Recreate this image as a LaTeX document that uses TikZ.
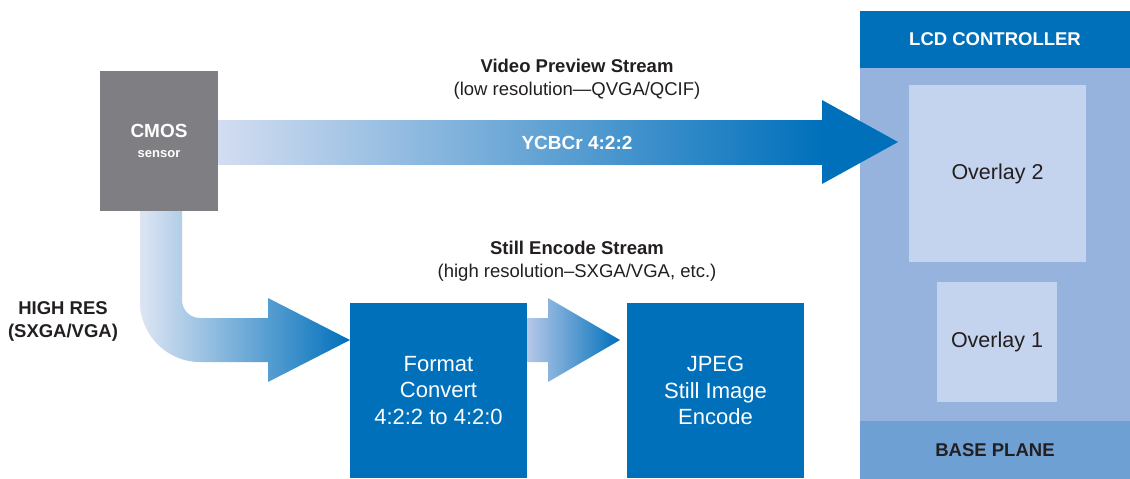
\documentclass[tikz,border=0pt]{standalone}
\usepackage{fontspec}
\setmainfont{Liberation Sans}
\begin{document}
\begin{tikzpicture}[x=1pt,y=-1pt,
  every node/.style={inner sep=0pt, outer sep=0pt},
  fs/.style n args={2}{font=\fontsize{#1}{#2}\selectfont},
  block/.style={fill=mblue, text=white, align=center, anchor=north west},
  panel/.style={fill=olay, text=ink, align=center, anchor=north west, fs={21.5}{24}},
  caption/.style={text=ink, align=center, font=\bfseries\fontsize{18.5}{23}\selectfont},
]
\definecolor{mblue}{HTML}{0070BB}
\definecolor{sensorgray}{HTML}{7F7F83}
\definecolor{lcdbody}{HTML}{95B3DD}
\definecolor{olay}{HTML}{C5D4EE}
\definecolor{baseplane}{HTML}{6FA0D3}
\definecolor{ink}{HTML}{231F20}
\definecolor{paleA}{HTML}{D3DDF1}
\definecolor{paleB}{HTML}{DDE5F3}
\definecolor{paleC}{HTML}{B6C8E8}

\useasboundingbox (0,0) rectangle (1130,479);

% LCD controller column
\node[fill=lcdbody, minimum width=270pt, minimum height=468pt, anchor=north west] (lcd) at (860,11) {};
\node[fill=mblue, text=white, minimum width=270pt, minimum height=57pt, anchor=north west,
      font=\bfseries\fontsize{18.5}{20}\selectfont] (lcdhead) at (860,11) {LCD CONTROLLER};
\node[fill=baseplane, text=ink, minimum width=270pt, minimum height=58pt, anchor=north west,
      font=\bfseries\fontsize{18.5}{20}\selectfont] (base) at (860,421) {BASE PLANE};
\node[panel, minimum width=177pt, minimum height=177pt] (ov2) at (909,85) {Overlay 2};
\node[panel, minimum width=120pt, minimum height=120pt] (ov1) at (937,282) {Overlay 1};

% sensor
\node[fill=sensorgray, text=white, align=center, anchor=north west,
      minimum width=118pt, minimum height=140pt] (cmos) at (100,71)
      {{\bfseries\fontsize{19}{20}\selectfont CMOS}\\[8pt]{\bfseries\fontsize{13}{14}\selectfont sensor}};

% processing blocks
\node[block, minimum width=177pt, minimum height=175pt, fs={22}{26.5}] (fmt) at (350,303)
      {Format\\Convert\\4:2:2 to 4:2:0};
\node[block, minimum width=177pt, minimum height=175pt, fs={22}{26.5}] (jpeg) at (627,303)
      {JPEG\\Still Image\\Encode};

% preview stream: sensor -> LCD
\shade[left color=paleA, right color=mblue] (cmos.east |- 0,120) rectangle (823,164);
\fill[mblue] (822,100) -- (898,142) -- (822,184) -- cycle;
\coordinate (prevtip) at (898,142);
\node[text=white, font=\bfseries\fontsize{19}{20}\selectfont] (ycbcr) at (577,143) {YCBCr 4:2:2};

% high resolution path: sensor -> format converter
\shade[left color=paleB, right color=mblue]
  (140,211) -- (140,302) .. controls (140,335) and (167,362) .. (200,362)
  -- (268,362) -- (268,382) -- (fmt.west |- 0,340) -- (268,298) -- (268,318)
  -- (200,318) .. controls (190,318) and (182,310) .. (182,300) -- (182,211) -- cycle;

% format converter -> JPEG encoder
\shade[left color=paleC, right color=mblue]
  (fmt.east |- 0,318) -- (548,318) -- (548,298) -- (620,340) -- (548,382) -- (548,362)
  -- (fmt.east |- 0,362) -- cycle;

% captions
\node[caption] (prevcap) at (577,79)
  {Video Preview Stream\\{\mdseries(low resolution—QVGA/QCIF)}};
\node[caption] (stillcap) at (577,261)
  {Still Encode Stream\\{\mdseries(high resolution–SXGA/VGA, etc.)}};
\node[caption] (hires) at (63,321) {HIGH RES\\(SXGA/VGA)};
\end{tikzpicture}
\end{document}
